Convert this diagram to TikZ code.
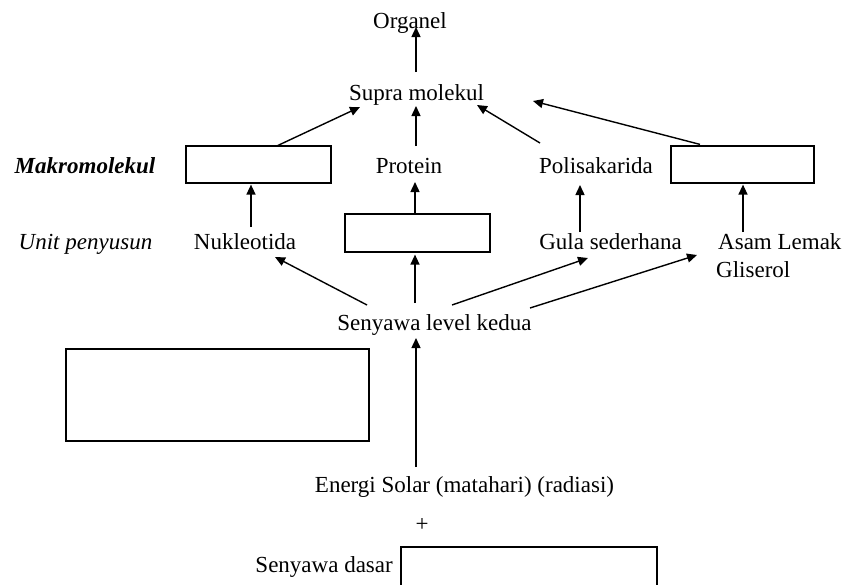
\documentclass[tikz,border=0pt]{standalone}
\usepackage{fontspec}
\setmainfont{Liberation Serif}
\usetikzlibrary{arrows.meta,calc}
\begin{document}
\begin{tikzpicture}[x=1pt,y=-1pt,
  txt/.style={font=\fontsize{23}{28}\selectfont, inner sep=0pt, anchor=base},
  bx/.style={draw, line width=1.2pt, inner sep=0pt},
  arr/.style={line width=1.4pt, -{Triangle[length=10pt,width=9pt]}}]
\useasboundingbox (0,0) rectangle (851,584);
% nodes
\node[txt] (org) at (410,28) {Organel};
\node[txt] (supra) at (416.5,100) {Supra molekul};
\node[txt, font=\fontsize{23}{28}\selectfont\bfseries\itshape] (makro) at (85,173) {Makromolekul};
\node[bx, minimum width=145pt, minimum height=37pt] (b1) at (258.5,164.5) {};
\node[txt] (prot) at (409,173) {Protein};
\node[txt] (poli) at (596,173) {Polisakarida};
\node[bx, minimum width=143pt, minimum height=37pt] (b2) at (742.5,164.5) {};
\node[txt, font=\fontsize{23}{28}\selectfont\itshape] (unit) at (85.5,249) {Unit penyusun};
\node[txt] (nuk) at (245,249) {Nukleotida};
\node[bx, minimum width=145pt, minimum height=38pt] (b3) at (417.5,233) {};
\node[txt] (gula) at (610.5,249) {Gula sederhana};
\node[txt, anchor=base west] (asam) at (718,249) {Asam Lemak};
\node[txt, anchor=base west] (glis) at (716,277) {Gliserol};
\node[txt] (sen2) at (434.5,330) {Senyawa level kedua};
\node[bx, minimum width=303pt, minimum height=92pt] (b4) at (217.5,395) {};
\node[txt] (energi) at (464.5,492) {Energi Solar (matahari) (radiasi)};
\node[txt] (plus) at (422,531) {+};
\node[txt, anchor=base east] (sdasar) at (393,572) {Senyawa dasar};
\node[bx, minimum width=256pt, minimum height=60pt] (b5) at (529,577) {};
% connectors
\draw[arr] ($(supra.base)+(-0.5,-28)$) -- ($(org.base)+(6,-1)$);
\draw[arr] ($(b1.north)+(19.5,0)$) -- ($(supra.base)+(-56.5,7)$);
\draw[arr] ($(prot.base)+(7,-27)$) -- ($(supra.base)+(-0.5,6)$);
\draw[arr] ($(poli.base)+(-56,-30)$) -- ($(supra.base)+(60.5,5)$);
\draw[arr] ($(b2.north)+(-42.5,-1)$) -- ($(supra.base)+(116.5,1)$);
\draw[arr] ($(nuk.base)+(6,-22)$) -- ($(b1.south)+(-7.5,1)$);
\draw[arr] ($(b3.north)+(-2.5,0)$) -- ($(prot.base)+(6,9)$);
\draw[arr] ($(gula.base)+(-30.5,-17)$) -- ($(poli.base)+(-16,12)$);
\draw[arr] ($(asam.base west)+(25,-17)$) -- ($(b2.south)+(0.5,1)$);
\draw[arr] ($(sen2.base)+(-67.5,-25)$) -- ($(nuk.base)+(30,8)$);
\draw[arr] ($(sen2.base)+(-19.5,-27)$) -- ($(b3.south)+(-2.5,2)$);
\draw[arr] ($(sen2.base)+(17.5,-25)$) -- ($(gula.base)+(-22.5,9)$);
\draw[arr] ($(sen2.base)+(95.5,-22)$) -- ($(asam.base west)+(-21,6)$);
\draw[arr] ($(energi.base)+(-48.5,-25)$) -- ($(sen2.base)+(-18.5,8)$);
\end{tikzpicture}
\end{document}
